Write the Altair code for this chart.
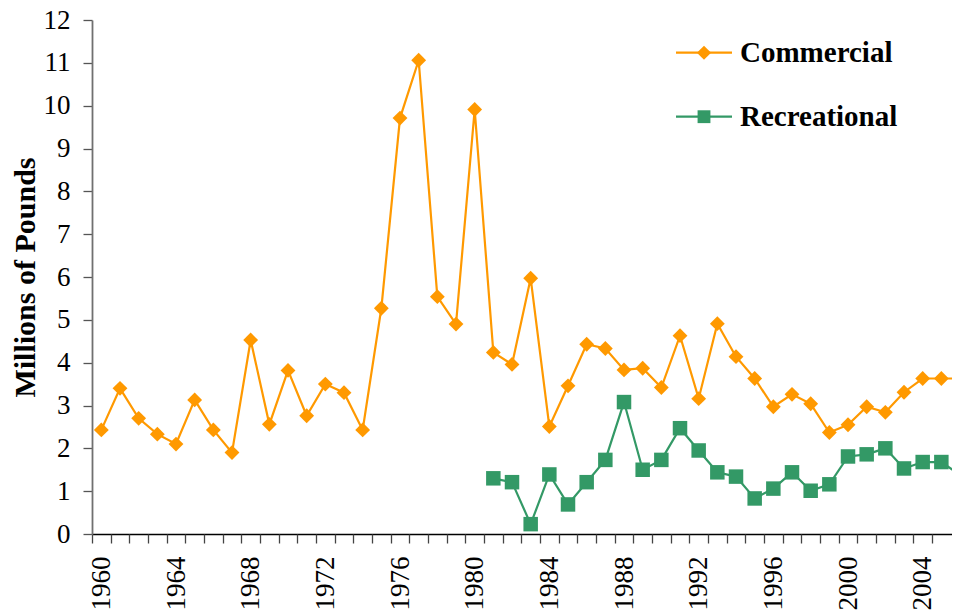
import altair as alt
import pandas as pd

# ---- data ----
years = list(range(1960, 2007))
commercial = [2.43, 3.40, 2.70, 2.33, 2.10, 3.13, 2.43, 1.90, 4.53, 2.56,
              3.82, 2.76, 3.50, 3.30, 2.43, 5.27, 9.71, 11.06, 5.54, 4.90,
              9.91, 4.24, 3.96, 5.97, 2.51, 3.46, 4.43, 4.33, 3.83, 3.87,
              3.42, 4.63, 3.16, 4.91, 4.14, 3.63, 2.97, 3.26, 3.04, 2.37,
              2.55, 2.97, 2.84, 3.31, 3.63, 3.63, 3.63]
rec_years = list(range(1981, 2007))
recreational = [1.30, 1.21, 0.23, 1.39, 0.69, 1.21, 1.73, 3.08, 1.50, 1.73,
                2.47, 1.95, 1.44, 1.34, 0.83, 1.06, 1.44, 1.01, 1.16, 1.81,
                1.86, 2.00, 1.53, 1.68, 1.68, 1.38]

series_names = ["Commercial", "Recreational"]
series_colors = ["#FF9900", "#339966"]
marker_shapes = ["diamond", "square"]
x_label_years = list(range(1960, 2005, 4))
x_tick_positions = [y - 0.5 for y in range(1960, 2006)]
y_ticks = list(range(0, 13))

df = pd.concat([
    pd.DataFrame({"year": years, "value": commercial, "series": "Commercial"}),
    pd.DataFrame({"year": rec_years, "value": recreational, "series": "Recreational"}),
], ignore_index=True)

FONT = "Liberation Serif"
PLOT_W, PLOT_H = 860, 514
X_MIN = 1959.5
X_MAX = X_MIN + PLOT_W / 18.667   # one year per ~18.7 px, chart cut at the right edge

x_scale = alt.Scale(domain=[X_MIN, X_MAX], nice=False, zero=False)
y_scale = alt.Scale(domain=[0, 12], nice=False, zero=True)
color_scale = alt.Scale(domain=series_names, range=series_colors)

y_axis = alt.Axis(
    values=y_ticks, format="d", grid=False,
    title="Millions of Pounds", titleFont=FONT, titleFontSize=30,
    titleFontWeight="bold", titleColor="black", titleAngle=270,
    titleX=-58, titleY=PLOT_H / 2, titleAlign="center", titleBaseline="alphabetic",
    labelFont=FONT, labelFontSize=27, labelColor="black", labelPadding=13,
    tickSize=9, tickColor="#555555", tickWidth=1.3,
    domainColor="#707070", domainWidth=1.8,
)

x_label_axis = alt.Axis(
    orient="bottom", values=x_label_years, format="d", grid=False, title=None,
    labelAngle=-90, labelFont=FONT, labelFontSize=27, labelColor="black",
    labelPadding=22, labelOverlap=False, labelFlush=False,
    ticks=False, tickSize=0, domainColor="black", domainWidth=1.3,
)
x_tick_axis = alt.Axis(
    orient="bottom", values=x_tick_positions, labels=False, grid=False, title=None,
    tickSize=9, tickColor="#444444", tickWidth=1.3, domain=False,
)

base = alt.Chart(df)

lines = base.mark_line(strokeWidth=2.2, clip=True).encode(
    x=alt.X("year:Q", scale=x_scale, axis=x_label_axis),
    y=alt.Y("value:Q", scale=y_scale, axis=y_axis),
    color=alt.Color("series:N", scale=color_scale, legend=None),
)

layers = [lines]
for i, (name, shape) in enumerate(zip(series_names, marker_shapes)):
    layers.append(
        base.transform_filter(alt.datum.series == name).mark_point(
            shape=shape, filled=True, size=220 if shape == "diamond" else 210, opacity=1
        ).encode(
            x=alt.X("year:Q", scale=x_scale, axis=x_tick_axis if i == 0 else None),
            y=alt.Y("value:Q", scale=y_scale, axis=y_axis),
            color=alt.Color("series:N", scale=color_scale, legend=None),
        )
    )

# ---- legend (top right, line + marker + bold label) ----
LEG_X0, LEG_X1, LEG_SYM_X, LEG_TXT_X = 584, 640, 612, 648
LEG_ROWS_Y = [32.7, 96.7]
legend_shapes = ["diamond", "square"]
for name, color, shape, yy in zip(series_names, series_colors, legend_shapes, LEG_ROWS_Y):
    ldf = pd.DataFrame({"series": [name]})
    lb = alt.Chart(ldf)
    layers.append(lb.mark_rule(color=color, strokeWidth=2.2).encode(
        x=alt.value(LEG_X0), x2=alt.value(LEG_X1), y=alt.value(yy)))
    layers.append(lb.mark_point(shape=shape, filled=True, opacity=1, color=color,
                                size=200 if shape == "diamond" else 165).encode(
        x=alt.value(LEG_SYM_X), y=alt.value(yy)))
    layers.append(lb.mark_text(align="left", baseline="middle", font=FONT, fontSize=29,
                               fontWeight="bold", color="black").encode(
        x=alt.value(LEG_TXT_X), y=alt.value(yy), text="series:N"))

chart = alt.layer(*layers).resolve_axis(
    x="independent"
).properties(
    width=PLOT_W, height=PLOT_H,
    autosize=alt.AutoSizeParams(type="none"),
    padding={"left": 84, "top": 12, "right": 0, "bottom": 79},
    background="white",
).configure_view(stroke=None)

chart.save("out.html", embed_options={"renderer": "svg", "actions": False})
